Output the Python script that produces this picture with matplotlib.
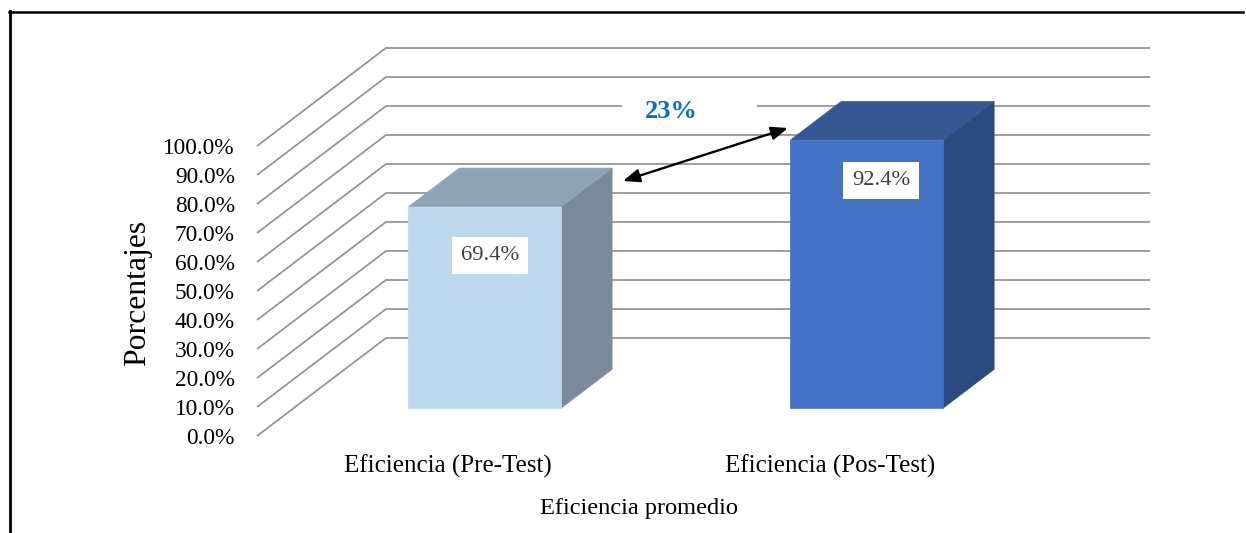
import matplotlib
matplotlib.use("Agg")
import matplotlib.pyplot as plt
from matplotlib.lines import Line2D
from matplotlib.patches import Rectangle

# ---- data ----
categories = ["Eficiencia (Pre-Test)", "Eficiencia (Pos-Test)"]
values = [69.4, 92.4]
y_ticks = [0, 10, 20, 30, 40, 50, 60, 70, 80, 90, 100]
y_label = "Porcentajes"
x_label = "Eficiencia promedio"
diff_label = "23%"

# ---- style / layout ----
front_colors = ["#BDD7EE", "#4472C4"]
top_colors = ["#8FA3B6", "#355794"]
side_colors = ["#7A8A9A", "#2C4A80"]
grid_color = "#959595"
label_dx = [0.013, 0.037]
label_dy = [-16.7, -13.8]

W, H, DPI = 1246, 533, 100
fig = plt.figure(figsize=(W / DPI, H / DPI), dpi=DPI)
fig.patch.set_facecolor("white")
SERIF = ["Liberation Serif", "DejaVu Serif"]

# front plane of the 3D box
left_px, right_px, bot_px, top_px = 257, 1021, 436, 146
ax = fig.add_axes([left_px / W, 1 - bot_px / H, (right_px - left_px) / W, (bot_px - top_px) / H])
ax.set_xlim(0, 2)
ax.set_ylim(0, 100)
ax.patch.set_alpha(0)
for s in ax.spines.values():
    s.set_visible(False)

# depth vector (back wall offset) in data units
DX, DY = 0.3377, 33.8


def P(x, y, d):
    return (x + d * DX, y + d * DY)


# gridlines: diagonal side lines + back wall
for v in y_ticks:
    p0 = P(0, v, 0)
    p1 = P(0, v, 1)
    p2 = P(2, v, 1)
    ax.plot([p0[0], p1[0], p2[0]], [p0[1], p1[1], p2[1]], color=grid_color,
            lw=1.3, clip_on=False, zorder=1, solid_capstyle="butt")

# bars
centers = [0.5 + i for i in range(len(categories))]
bw = 0.4
f0, f1 = 0.286, 0.68
for i, (c, v) in enumerate(zip(centers, values)):
    xl, xr = c - bw / 2, c + bw / 2
    front = [P(xl, 0, f0), P(xr, 0, f0), P(xr, v, f0), P(xl, v, f0)]
    side = [P(xr, 0, f0), P(xr, 0, f1), P(xr, v, f1), P(xr, v, f0)]
    top = [P(xl, v, f0), P(xr, v, f0), P(xr, v, f1), P(xl, v, f1)]
    for poly, col in ((side, side_colors[i]), (top, top_colors[i]), (front, front_colors[i])):
        xs, ys = zip(*poly)
        ax.fill(xs, ys, color=col, ec=col, lw=0.5, clip_on=False, zorder=3)
    lx, ly = P(c + label_dx[i], v + label_dy[i], f0)
    ax.text(lx, ly, f"{v:.1f}%", ha="center", va="center", fontsize=16.2,
            family=SERIF, color="#404040", zorder=5,
            bbox=dict(boxstyle="square,pad=0.4", fc="white", ec="none"))

# y ticks
ax.set_yticks(y_ticks)
ax.set_yticklabels([f"{v:.1f}%" for v in y_ticks], family=SERIF, fontsize=16.8)
ax.tick_params(axis="y", length=0, pad=16)
ax.set_xticks([])

# category labels
for c, lab in zip(centers, categories):
    ax.annotate(lab, xy=(c, 0), xytext=(0, -21.6), textcoords="offset points",
                ha="center", va="center", fontsize=18, family=SERIF, annotation_clip=False)

ax.text(0.5, -0.2517, x_label, transform=ax.transAxes, ha="center", va="center",
        fontsize=17.6, family=SERIF)
ax.text(-0.1558, 0.493, y_label, transform=ax.transAxes, ha="center", va="center",
        rotation=90, fontsize=22.8, family=SERIF)

# difference annotation
fig.patches.append(Rectangle((622 / W, 1 - 124 / H), 135 / W, 26 / H,
                             transform=fig.transFigure, fc="white", ec="none", zorder=4))
fig.text(671 / W, 1 - 112 / H, diff_label, ha="center", va="center", fontsize=19,
         fontweight="bold", family=SERIF, color="#0070C0", zorder=6)
ax.annotate("", xy=(623 / W, 1 - 181 / H), xytext=(788 / W, 1 - 128 / H),
            xycoords="figure fraction", textcoords="figure fraction",
            arrowprops=dict(arrowstyle="<|-|>,head_length=1.0,head_width=0.4",
                            color="black", lw=1.7, shrinkA=0, shrinkB=0),
            annotation_clip=False, zorder=6)

# outer frame (top and left visible)
fig.lines.append(Line2D([9 / W, 1243 / W], [1 - 11.5 / H, 1 - 11.5 / H],
                        transform=fig.transFigure, color="black", lw=1.8))
fig.lines.append(Line2D([9.5 / W, 9.5 / W], [0, 1 - 11 / H],
                        transform=fig.transFigure, color="black", lw=2.0))

fig.savefig("out.png", dpi=DPI)
